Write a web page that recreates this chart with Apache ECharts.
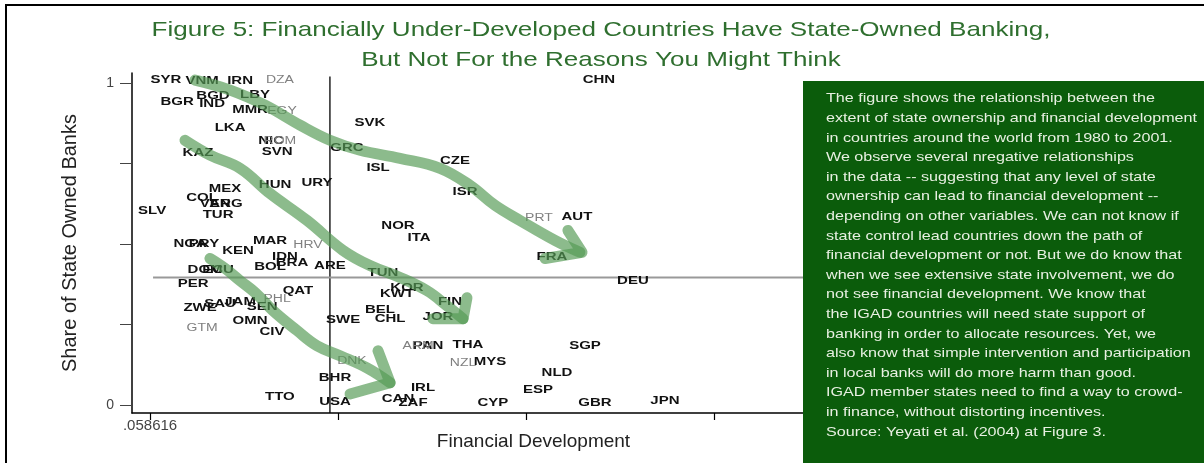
<!DOCTYPE html>
<html>
<head>
<meta charset="utf-8">
<script src="https://cdn.jsdelivr.net/npm/echarts@6/dist/echarts.min.js"></script>
<style>
  html, body { margin: 0; padding: 0; background: #fff; }
  #chart { width: 1204px; height: 463px; }
</style>
</head>
<body>
<div id="chart"></div>
<script>
// country codes with (financial development, share of state owned banks)
const codes = ['SYR','VNM','IRN','DZA','BGD','LBY','BGR','IND','MMR','EGY','LKA','NIC','ROM','SVN','KAZ',
  'GRC','SVK','CZE','ISL','URY','HUN','ISR','NOR','ITA','MEX','COL','VEN','ARG','TUR','SLV','NGA','PRY',
  'KEN','MAR','HRV','IDN','BRA','BOL','ARE','DOM','ECU','TUN','PER','QAT','KOR','KWT','FIN','ZWE','SAU',
  'JAM','PHL','SEN','BEL','CHL','JOR','SWE','OMN','GTM','CIV','PAN','ARM','THA','SGP','DNK','NZL','MYS',
  'NLD','BHR','IRL','ESP','TTO','USA','CAN','ZAF','CYP','GBR','JPN','DEU','FRA','PRT','AUT','CHN'];
const finDev = [0.085,0.277,0.479,0.691,0.335,0.559,0.144,0.330,0.532,0.702,0.426,0.644,0.691,0.676,0.255,
  1.048,1.170,1.622,1.213,0.888,0.665,1.676,1.319,1.431,0.399,0.277,0.346,0.404,0.362,0.011,0.213,0.287,
  0.468,0.638,0.840,0.718,0.755,0.638,0.957,0.293,0.362,1.239,0.229,0.787,1.367,1.314,1.596,0.266,0.372,
  0.479,0.676,0.596,1.223,1.277,1.532,1.027,0.532,0.277,0.649,1.479,1.426,1.691,2.314,1.074,1.665,1.809,
  2.165,0.984,1.452,2.064,0.691,0.984,1.319,1.399,1.824,2.367,2.739,2.569,2.138,2.069,2.271,2.388];
const stateShare = [1.009,1.006,1.006,1.009,0.960,0.963,0.941,0.935,0.916,0.913,0.860,0.819,0.819,0.785,0.782,
  0.798,0.875,0.757,0.735,0.688,0.682,0.660,0.555,0.517,0.670,0.642,0.623,0.623,0.589,0.601,0.498,0.498,
  0.477,0.508,0.495,0.458,0.439,0.427,0.430,0.417,0.417,0.408,0.374,0.352,0.361,0.343,0.318,0.299,0.312,
  0.318,0.327,0.302,0.293,0.265,0.271,0.262,0.259,0.237,0.227,0.181,0.181,0.184,0.181,0.137,0.128,0.134,
  0.097,0.084,0.053,0.047,0.025,0.009,0.019,0.006,0.006,0.006,0.012,0.383,0.458,0.579,0.583,1.009];
// labels printed in light grey
const faint = ['DZA','ROM','HRV','PHL','GTM','ARM','DNK','NZL','PRT','EGY'];

// reference lines
const refFinDev = 0.957;
const refShare = 0.396;

// hand drawn arrows, [financial development, share]
const arrowTop = [[0.239,1.009],[0.426,0.978],[0.612,0.931],[0.798,0.869],[0.957,0.822],[1.117,0.791],
  [1.330,0.766],[1.543,0.735],[1.702,0.682],[1.835,0.620],[1.968,0.573],[2.154,0.511],[2.287,0.474]];
const arrowTopHead = [[2.223,0.542],[2.298,0.474],[2.101,0.455]];
const arrowMid = [[0.186,0.822],[0.319,0.776],[0.479,0.735],[0.638,0.657],[0.835,0.573],[1.027,0.480],
  [1.170,0.433],[1.330,0.396],[1.473,0.355],[1.580,0.308],[1.665,0.268]];
const arrowMidHead = [[1.686,0.333],[1.665,0.268],[1.505,0.268]];
const arrowLow = [[0.319,0.455],[0.399,0.424],[0.479,0.386],[0.559,0.349],[0.654,0.293],[0.782,0.231],
  [0.888,0.184],[1.011,0.153],[1.154,0.115],[1.277,0.069]];
const arrowLowHead = [[1.213,0.168],[1.277,0.069],[1.064,0.034]];

const xTicks = [0, 1, 2, 3, 4];
const yTicks = [0, 0.25, 0.5, 0.75, 1];

const noteLines = [
  'The figure shows the relationship between the',
  'extent of state ownership and financial development',
  'in countries around the world from 1980 to 2001.',
  'We observe several nregative relationships',
  'in the data -- suggesting that any level of state',
  'ownership can lead to financial development --',
  'depending on other variables. We can not know if',
  'state control lead countries down the path of',
  'financial development or not. But we do know that',
  'when we see extensive state involvement, we do',
  'not see financial development. We know that',
  'the IGAD countries will need state support of',
  'banking in order to allocate resources. Yet, we',
  'also know that simple intervention and participation',
  'in local banks will do more harm than good.',
  'IGAD member states need to find a way to crowd-',
  'in finance, without distorting incentives.',
  'Source: Yeyati et al. (2004) at Figure 3.'
];

const boldPts = [], boldNames = [], faintPts = [], faintNames = [];
codes.forEach((c, i) => {
  if (faint.includes(c)) { faintPts.push([finDev[i], stateShare[i]]); faintNames.push(c); }
  else { boldPts.push([finDev[i], stateShare[i]]); boldNames.push(c); }
});

// country codes drawn as wide stretched text at the data position
function labelSeries(data, names, font, color, sx) {
  return {
    type: 'custom', data: data, z: 3, silent: true,
    renderItem: (params, api) => {
      const p = api.coord([api.value(0), api.value(1)]);
      return {
        type: 'text', x: p[0], y: p[1], scaleX: sx,
        style: { text: names[params.dataIndex], font: font, fill: color, align: 'center', verticalAlign: 'middle' }
      };
    }
  };
}

const arrowStyle = { color: 'rgba(85,155,85,0.68)', width: 11, cap: 'round', join: 'round' };
function arrow(data, smooth) {
  return { type: 'line', data: data, smooth: smooth, symbol: 'none', silent: true, z: 5, lineStyle: arrowStyle };
}
function refLine(data, color, width) {
  return { type: 'line', data: data, symbol: 'none', silent: true, z: 2, lineStyle: { color: color, width: width } };
}

const chart = echarts.init(document.getElementById('chart'));
chart.setOption({
  animation: false,
  textStyle: { fontFamily: 'Liberation Sans, Arial, sans-serif' },
  grid: { left: 132, right: 269, top: 73, bottom: 50 },
  xAxis: {
    type: 'value', min: -0.096, max: 4.176,
    name: 'Financial Development', nameLocation: 'middle', nameGap: 19, nameMoveOverlap: false,
    nameTextStyle: { fontSize: 19, color: '#222' },
    axisLine: { show: true, onZero: false, lineStyle: { color: '#000', width: 1.5 } },
    axisTick: { show: true, customValues: xTicks, length: 7, lineStyle: { color: '#000', width: 1.2 } },
    axisLabel: { customValues: [0], formatter: () => '.058616', fontSize: 15, color: '#444', margin: 5 },
    splitLine: { show: false }
  },
  yAxis: {
    type: 'value', min: -0.025, max: 1.031,
    name: 'Share of State Owned Banks', nameLocation: 'middle', nameGap: 52, nameMoveOverlap: false,
    nameTextStyle: { fontSize: 20, color: '#222' },
    axisLine: { show: true, onZero: false, lineStyle: { color: '#000', width: 1.5 } },
    axisTick: { show: true, customValues: yTicks, length: 12, lineStyle: { color: '#444' } },
    axisLabel: { customValues: [0, 1], formatter: v => (v === 0 ? '0' : '1'), fontSize: 14, color: '#444', margin: 18 },
    splitLine: { show: false }
  },
  series: [
    refLine([[refFinDev, 1.02], [refFinDev, -0.025]], '#000', 1.3),
    refLine([[0.016, refShare], [4.176, refShare]], '#999', 2),
    labelSeries(boldPts, boldNames, 'bold 10px "Liberation Sans", Arial, sans-serif', '#111', 1.5),
    labelSeries(faintPts, faintNames, '10px "Liberation Sans", Arial, sans-serif', '#808080', 1.4),
    arrow(arrowTop, 0.4), arrow(arrowTopHead, false),
    arrow(arrowMid, 0.4), arrow(arrowMidHead, false),
    arrow(arrowLow, 0.4), arrow(arrowLowHead, false)
  ],
  graphic: [
    {
      type: 'text', z: 100, silent: true, x: 601, y: 30, scaleX: 1.24,
      style: {
        text: 'Figure 5: Financially Under-Developed Countries Have State-Owned Banking,',
        font: '21px "Liberation Sans", Arial, sans-serif', fill: '#2f6f2f', align: 'center', verticalAlign: 'middle'
      }
    },
    {
      type: 'text', z: 100, silent: true, x: 601, y: 60, scaleX: 1.24,
      style: {
        text: 'But Not For the Reasons You Might Think',
        font: '21px "Liberation Sans", Arial, sans-serif', fill: '#2f6f2f', align: 'center', verticalAlign: 'middle'
      }
    },
    {
      type: 'rect', z: 100, silent: true,
      shape: { x: 6, y: 5, width: 1220, height: 480 },
      style: { fill: 'none', stroke: '#000', lineWidth: 2 }
    },
    {
      type: 'rect', z: 101, silent: true,
      shape: { x: 803, y: 81, width: 410, height: 390 },
      style: { fill: '#0b5c0b' }
    },
    {
      type: 'text', z: 102, silent: true, x: 826, y: 89, scaleX: 1.24,
      style: {
        text: noteLines.join('\n'), fill: '#e8f0e2',
        font: '13px "Liberation Sans", Arial, sans-serif', lineHeight: 19.6
      }
    }
  ]
});
</script>
</body>
</html>
